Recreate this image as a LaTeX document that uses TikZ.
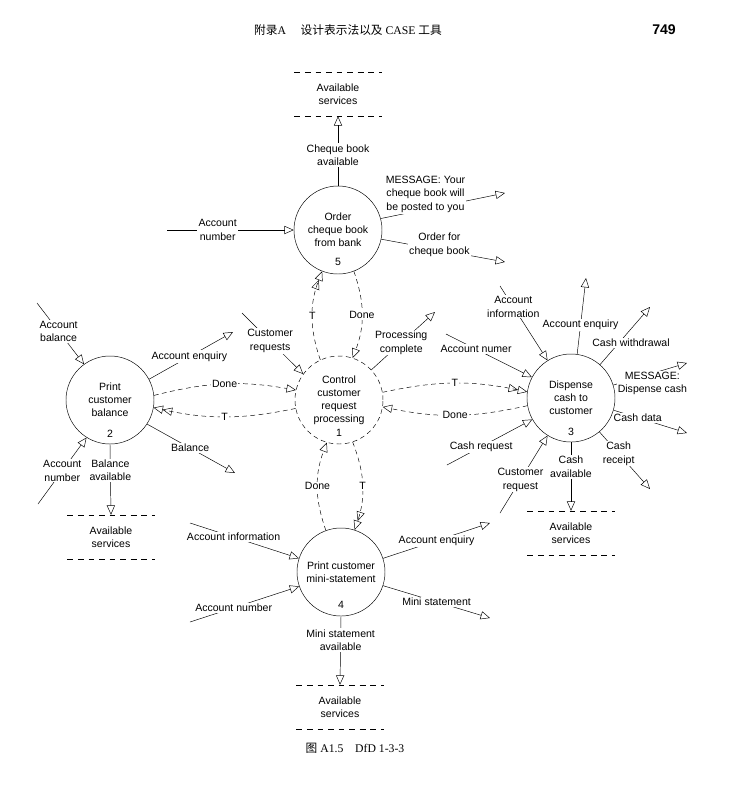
\documentclass[tikz,border=0pt]{standalone}
\usepackage{fontspec}
\setmainfont{Liberation Serif}
\newfontfamily\cjk{Noto Sans CJK SC}
\newfontfamily\labfont{Liberation Sans}
\usetikzlibrary{arrows.meta}

\begin{document}
\begin{tikzpicture}[x=0.03cm, y=-0.03cm]

\tikzset{process/.style = {shape=circle,draw,minimum size=2.64cm,inner sep=0pt,align=center,font=\labfont\fontsize{9}{11}\selectfont}}
\tikzset{control/.style = {process,dash pattern=on 4pt off 3pt}}
\tikzset{store/.style = {minimum width=2.6cm,minimum height=1.32cm,inner sep=0pt,align=center,font=\labfont\fontsize{9}{11.5}\selectfont}}
\tikzset{storeline/.style = {dash pattern=on 5pt off 4pt}}
\tikzset{flow/.style = {-{Triangle[open,length=8pt,width=7pt]}}}
\tikzset{done/.style = {flow,dash pattern=on 4pt off 3pt}}
\tikzset{trigger/.style = {-{Triangle[open,length=8pt,width=7pt] Triangle[open,length=8pt,width=7pt]},dash pattern=on 4pt off 3pt}}
\tikzset{lbl/.style = {fill=white,inner sep=1pt,align=center,font=\labfont\fontsize{9}{11.5}\selectfont}}
\tikzset{num/.style = {font=\labfont\fontsize{9}{11}\selectfont}}

\useasboundingbox (0,0) rectangle (737,801);

\node[anchor=west] (head) at (250,30) {\cjk 附录\rmfamily A\quad\ \cjk 设计表示法以及\rmfamily\ CASE \cjk 工具};
\node (page) at (664,30) {\labfont\bfseries\fontsize{12}{14}\selectfont 749};

\node[process] (p5) at (338,230) {Order\\cheque book\\from bank};
\node[num] (n5) at (338,262) {5};
\node[process] (p2) at (110,400) {Print\\customer\\balance};
\node[num] (n2) at (110,434) {2};
\node[control] (p1) at (339,400) {Control\\customer\\request\\processing};
\node[num] (n1) at (339,433) {1};
\node[process] (p3) at (571,398) {Dispense\\cash to\\customer};
\node[num] (n3) at (571,432) {3};
\node[process] (p4) at (341,572) {Print customer\\mini-statement};
\node[num] (n4) at (341,605) {4};

\node[store] (s5) at (338,94) {Available\\services};
\node[store] (s2) at (111,537) {Available\\services};
\node[store] (s3) at (571,533) {Available\\services};
\node[store] (s4) at (340,707) {Available\\services};
\foreach \s in {s5,s2,s3,s4} {
  \draw[storeline] (\s.north west) -- (\s.north east);
  \draw[storeline] (\s.south west) -- (\s.south east);
}

\coordinate (accnum5) at (167,230);
\coordinate (msg5) at (505,193);
\coordinate (order5) at (505,262);
\coordinate (accbal2) at (37,303);
\coordinate (accenq2) at (233,332);
\coordinate (bal2) at (235,473);
\coordinate (accnum2) at (38,504);
\coordinate (custreq1) at (242,313);
\coordinate (proc1) at (435,312);
\coordinate (accinfo3) at (500,286);
\coordinate (accenq3) at (586,278);
\coordinate (cashwd3) at (650,307);
\coordinate (msg3) at (687,363);
\coordinate (cashdata3) at (687,433);
\coordinate (cashrcpt3) at (650,489);
\coordinate (custreq3) at (500,513);
\coordinate (cashreq3) at (447,465);
\coordinate (accnum3) at (446,334);
\coordinate (accinfo4) at (190,523);
\coordinate (accnum4) at (190,622);
\coordinate (accenq4) at (490,523);
\coordinate (mini4) at (490,618);

\draw[flow] (accnum5) -- node[lbl, pos=0.4] {Account\\number} (p5.west);
\draw[flow] (p5.north) -- node[lbl, pos=0.44] {Cheque book\\available} (s5.south);
\draw[flow] (p5.15) -- node[lbl, pos=0.36, yshift=0.45cm] {MESSAGE: Your\\cheque book will\\be posted to you} (msg5);
\draw[flow] (p5.-12) -- node[lbl, pos=0.47, yshift=0.15cm] {Order for\\cheque book} (order5);

\draw[done] (p5.-69) to[bend left=20] node[lbl] {Done} (p1.72);
\draw[trigger] (p1.115) to[bend left=20] node[lbl] {T} (p5.249);

\draw[flow] (accbal2) -- node[lbl, pos=0.46] {Account\\balance} (p2.126);
\draw[flow] (p2.28) -- node[lbl, pos=0.48] {Account enquiry} (accenq2);
\draw[flow] (p2.-33) -- node[lbl, pos=0.49] {Balance} (bal2);
\draw[flow] (accnum2) -- node[lbl, pos=0.5] {Account\\number} (p2.238);
\draw[flow] (p2.south) -- node[lbl, pos=0.37] {Balance\\available} (s2.north);
\draw[done] (p2.6) to[bend left=12] node[lbl] {Done} (p1.167);
\draw[trigger] (p1.191) to[bend left=12] node[lbl] {T} (p2.-10);

\draw[flow] (custreq1) -- node[lbl, pos=0.46] {Customer\\requests} (p1.144);
\draw[flow] (p1.43) -- node[lbl, pos=0.47] {Processing\\complete} (proc1);

\draw[trigger] (p1.10) to[bend left=12] node[lbl] {T} (p3.172);
\draw[done] (p3.190) to[bend left=12] node[lbl] {Done} (p1.-9);
\draw[flow] (accinfo3) -- node[lbl, pos=0.28] {Account\\information} (p3.122);
\draw[flow] (p3.82) -- node[lbl, pos=0.38] {Account enquiry} (accenq3);
\draw[flow] (p3.49) -- node[lbl, pos=0.38, xshift=0.36cm] {Cash withdrawal} (cashwd3);
\draw[flow] (p3.17) -- node[lbl, pos=0.53, yshift=-0.3cm] {MESSAGE:\\Dispense cash} (msg3);
\draw[flow] (p3.-16) -- node[lbl, pos=0.33] {Cash data} (cashdata3);
\draw[flow] (p3.-50) -- node[lbl, pos=0.38] {Cash\\receipt} (cashrcpt3);
\draw[flow] (p3.south) -- node[lbl, pos=0.36] {Cash\\available} (s3.north);
\draw[flow] (custreq3) -- node[lbl, pos=0.43] {Customer\\request} (p3.238);
\draw[flow] (cashreq3) -- node[lbl, pos=0.4] {Cash request} (p3.209);
\draw[flow] (accnum3) -- node[lbl, pos=0.35] {Account numer} (p3.152);

\draw[trigger] (p1.288) to[bend left=20] node[lbl] {T} (p4.72);
\draw[done] (p4.110) to[bend left=20] node[lbl] {Done} (p1.254);
\draw[flow] (accinfo4) -- node[lbl, pos=0.4] {Account information} (p4.162);
\draw[flow] (accnum4) -- node[lbl, pos=0.4] {Account number} (p4.199);
\draw[flow] (p4.18) -- node[lbl, pos=0.5] {Account enquiry} (accenq4);
\draw[flow] (p4.-18) -- node[lbl, pos=0.5] {Mini statement} (mini4);
\draw[flow] (p4.south) -- node[lbl, pos=0.35] {Mini statement\\available} (s4.north);

\node (caption) at (355,748) {\cjk 图\rmfamily\ A1.5\quad DfD 1-3-3};

\end{tikzpicture}
\end{document}
